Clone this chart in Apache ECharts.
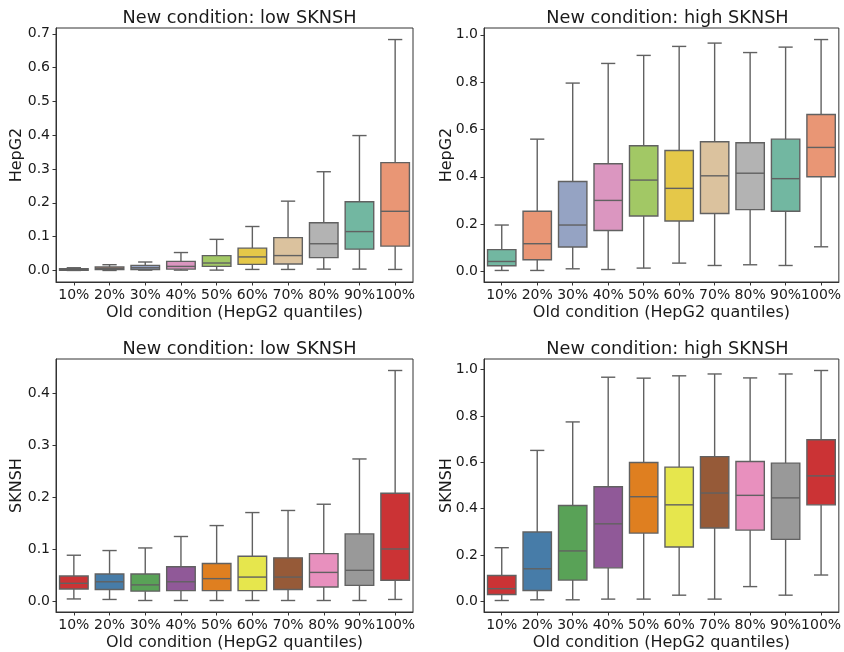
<!DOCTYPE html>
<html>
<head>
<meta charset="utf-8">
<script src="https://cdn.jsdelivr.net/npm/echarts@6/dist/echarts.min.js"></script>
<style>
  html, body { margin: 0; padding: 0; background: #fff; }
  #chart { width: 844px; height: 652px; }
</style>
</head>
<body>
<div id="chart"></div>
<script>
// x categories
const quantiles = ['10%', '20%', '30%', '40%', '50%', '60%', '70%', '80%', '90%', '100%'];

// each row: [lower whisker, q1, median, q3, upper whisker]
const hepg2LowSknsh = [
  [0.000, 0.0005, 0.002, 0.005, 0.008],
  [0.000, 0.003, 0.006, 0.010, 0.017],
  [0.001, 0.003, 0.008, 0.015, 0.025],
  [0.001, 0.004, 0.012, 0.027, 0.053],
  [0.001, 0.012, 0.022, 0.044, 0.092],
  [0.003, 0.018, 0.040, 0.066, 0.130],
  [0.003, 0.019, 0.044, 0.097, 0.205],
  [0.004, 0.038, 0.079, 0.141, 0.292],
  [0.004, 0.063, 0.115, 0.203, 0.399],
  [0.003, 0.072, 0.175, 0.319, 0.683]
];
const hepg2HighSknsh = [
  [0.004, 0.024, 0.042, 0.092, 0.196],
  [0.004, 0.049, 0.117, 0.254, 0.559],
  [0.011, 0.103, 0.196, 0.380, 0.796],
  [0.008, 0.173, 0.300, 0.455, 0.879],
  [0.014, 0.234, 0.386, 0.531, 0.913],
  [0.035, 0.213, 0.351, 0.511, 0.951],
  [0.025, 0.245, 0.404, 0.548, 0.965],
  [0.028, 0.261, 0.415, 0.544, 0.925],
  [0.025, 0.254, 0.392, 0.559, 0.948],
  [0.104, 0.400, 0.524, 0.663, 0.980]
];
const sknshLowSknsh = [
  [0.004, 0.023, 0.034, 0.048, 0.088],
  [0.003, 0.022, 0.037, 0.052, 0.097],
  [0.001, 0.019, 0.031, 0.052, 0.102],
  [0.001, 0.020, 0.037, 0.066, 0.124],
  [0.001, 0.020, 0.043, 0.072, 0.145],
  [0.001, 0.020, 0.046, 0.086, 0.170],
  [0.001, 0.022, 0.046, 0.083, 0.174],
  [0.001, 0.027, 0.055, 0.091, 0.186],
  [0.001, 0.030, 0.059, 0.129, 0.273],
  [0.003, 0.040, 0.100, 0.207, 0.443]
];
const sknshHighSknsh = [
  [0.003, 0.029, 0.054, 0.111, 0.231],
  [0.006, 0.046, 0.140, 0.299, 0.651],
  [0.006, 0.091, 0.217, 0.413, 0.774],
  [0.009, 0.144, 0.334, 0.494, 0.967],
  [0.009, 0.294, 0.451, 0.599, 0.963],
  [0.026, 0.234, 0.416, 0.579, 0.973],
  [0.009, 0.316, 0.467, 0.624, 0.981],
  [0.063, 0.307, 0.457, 0.603, 0.964],
  [0.026, 0.267, 0.446, 0.596, 0.981],
  [0.113, 0.416, 0.541, 0.697, 0.996]
];

// y tick labels
const ticksTopLeft = [0, 0.1, 0.2, 0.3, 0.4, 0.5, 0.6, 0.7];
const ticksUnit = [0, 0.2, 0.4, 0.6, 0.8, 1.0];
const ticksBottomLeft = [0, 0.1, 0.2, 0.3, 0.4];

// seaborn Set2 / Set1, desaturated
const set2 = ['#72b7a1', '#e99675', '#95a3c3', '#db96c0', '#a2c865', '#e5c849', '#dbc29e', '#b3b3b3', '#72b7a1', '#e99675'];
const set1 = ['#cb3335', '#477ca8', '#59a257', '#905998', '#df7f20', '#e6e64d', '#965a38', '#e890be', '#999999', '#cb3335'];

const FONT = 'DejaVu Sans';
const TXT = '#1a1a1a';
const LINE = '#616161';

const panels = [
  { title: 'New condition: low SKNSH', yName: 'HepG2', data: hepg2LowSknsh, ticks: ticksTopLeft, colors: set2,
    grid: { left: 56, top: 28, width: 357, height: 254 }, nameGap: 31 },
  { title: 'New condition: high SKNSH', yName: 'HepG2', data: hepg2HighSknsh, ticks: ticksUnit, colors: set2,
    grid: { left: 484, top: 28, width: 357, height: 254 }, nameGap: 29 },
  { title: 'New condition: low SKNSH', yName: 'SKNSH', data: sknshLowSknsh, ticks: ticksBottomLeft, colors: set1,
    grid: { left: 56, top: 359, width: 357, height: 255 }, nameGap: 31 },
  { title: 'New condition: high SKNSH', yName: 'SKNSH', data: sknshHighSknsh, ticks: ticksUnit, colors: set1,
    grid: { left: 484, top: 359, width: 357, height: 255 }, nameGap: 29 }
];

function makeRender(colors) {
  return function (params, api) {
    const x = api.value(0);
    const lo = api.coord([x, api.value(1)]);
    const q1 = api.coord([x, api.value(2)]);
    const md = api.coord([x, api.value(3)]);
    const q3 = api.coord([x, api.value(4)]);
    const hi = api.coord([x, api.value(5)]);
    const band = api.size([1, 0])[0];
    const bw = band * 0.8, cw = bw * 0.5;
    const cx = lo[0];
    const ln = { stroke: LINE, lineWidth: 1.4 };
    return {
      type: 'group',
      children: [
        { type: 'line', shape: { x1: cx, y1: q1[1], x2: cx, y2: lo[1] }, style: ln },
        { type: 'line', shape: { x1: cx, y1: q3[1], x2: cx, y2: hi[1] }, style: ln },
        { type: 'line', shape: { x1: cx - cw / 2, y1: lo[1], x2: cx + cw / 2, y2: lo[1] }, style: ln },
        { type: 'line', shape: { x1: cx - cw / 2, y1: hi[1], x2: cx + cw / 2, y2: hi[1] }, style: ln },
        { type: 'rect', shape: { x: cx - bw / 2, y: q3[1], width: bw, height: q1[1] - q3[1] },
          style: { fill: colors[params.dataIndex], stroke: LINE, lineWidth: 1.4 } },
        { type: 'line', shape: { x1: cx - bw / 2, y1: md[1], x2: cx + bw / 2, y2: md[1] }, style: ln }
      ]
    };
  };
}

const option = {
  animation: false,
  backgroundColor: '#fff',
  title: [], grid: [], xAxis: [], yAxis: [], series: []
};

panels.forEach(function (p, i) {
  const lows = p.data.map(r => r[0]), highs = p.data.map(r => r[4]);
  const dmin = Math.min.apply(null, lows), dmax = Math.max.apply(null, highs);
  const pad = (dmax - dmin) * 0.05;
  option.grid.push(Object.assign({ show: true, borderColor: '#333', borderWidth: 1, backgroundColor: 'transparent' }, p.grid));
  option.title.push({
    text: p.title,
    left: p.grid.left + p.grid.width / 2,
    top: p.grid.top - 24,
    textAlign: 'center',
    textStyle: { fontFamily: FONT, fontSize: 17.7, fontWeight: 'normal', color: TXT }
  });
  option.xAxis.push({
    type: 'category', gridIndex: i, data: quantiles, boundaryGap: true,
    name: 'Old condition (HepG2 quantiles)', nameLocation: 'middle', nameGap: 23,
    nameMoveOverlap: false,
    nameTextStyle: { fontFamily: FONT, fontSize: 16, color: TXT },
    axisLine: { show: true, onZero: false, lineStyle: { color: '#333', width: 1 } },
    axisTick: { show: true, alignWithLabel: true, length: 3.5, lineStyle: { color: '#333' } },
    axisLabel: { fontFamily: FONT, fontSize: 14, color: TXT, margin: 6, interval: 0 },
    splitLine: { show: false }
  });
  option.yAxis.push({
    type: 'value', gridIndex: i, min: dmin - pad, max: dmax + pad,
    name: p.yName, nameLocation: 'middle', nameGap: p.nameGap,
    nameMoveOverlap: false,
    nameTextStyle: { fontFamily: FONT, fontSize: 16, color: TXT },
    axisLine: { show: true, onZero: false, lineStyle: { color: '#333', width: 1 } },
    axisTick: { show: true, length: 3.5, customValues: p.ticks, lineStyle: { color: '#333' } },
    axisLabel: { fontFamily: FONT, fontSize: 14, color: TXT, margin: 6, customValues: p.ticks,
      formatter: v => v.toFixed(1) },
    splitLine: { show: false }
  });
  option.series.push({
    type: 'custom', xAxisIndex: i, yAxisIndex: i,
    renderItem: makeRender(p.colors),
    encode: { x: 0, y: [1, 2, 3, 4, 5] },
    data: p.data.map((r, k) => [k].concat(r))
  });
});

const chart = echarts.init(document.getElementById('chart'), null, { renderer: 'canvas' });
chart.setOption(option);
</script>
</body>
</html>
